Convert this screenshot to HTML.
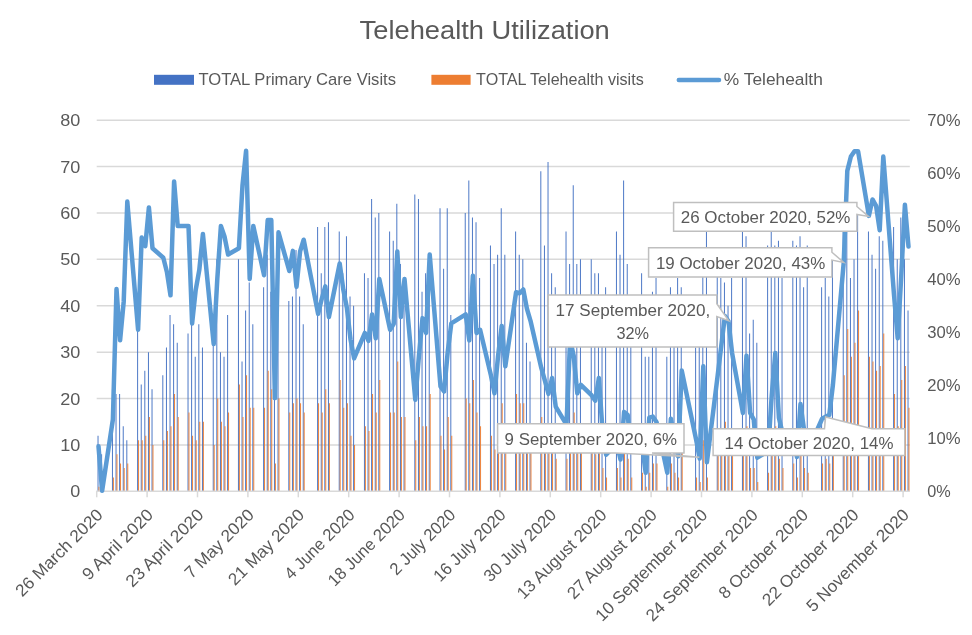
<!DOCTYPE html><html><head><meta charset="utf-8"><title>Telehealth Utilization</title>
<style>html,body{margin:0;padding:0;background:#fff;}svg{display:block;will-change:transform;}text{font-family:"Liberation Sans",sans-serif;fill:#595959;}</style></head><body>
<svg width="972" height="635" viewBox="0 0 972 635">
<rect width="972" height="635" fill="#fff"/>
<line x1="96.7" y1="444.91" x2="909.8" y2="444.91" stroke="#D9D9D9" stroke-width="1.5"/>
<line x1="96.7" y1="398.52" x2="909.8" y2="398.52" stroke="#D9D9D9" stroke-width="1.5"/>
<line x1="96.7" y1="352.13" x2="909.8" y2="352.13" stroke="#D9D9D9" stroke-width="1.5"/>
<line x1="96.7" y1="305.74" x2="909.8" y2="305.74" stroke="#D9D9D9" stroke-width="1.5"/>
<line x1="96.7" y1="259.35" x2="909.8" y2="259.35" stroke="#D9D9D9" stroke-width="1.5"/>
<line x1="96.7" y1="212.96" x2="909.8" y2="212.96" stroke="#D9D9D9" stroke-width="1.5"/>
<line x1="96.7" y1="166.57" x2="909.8" y2="166.57" stroke="#D9D9D9" stroke-width="1.5"/>
<line x1="96.7" y1="120.18" x2="909.8" y2="120.18" stroke="#D9D9D9" stroke-width="1.5"/>
<path fill="#4472C4" d="M97.55 435.63h0.95v55.67h-0.95zM101.15 454.19h0.95v37.11h-0.95zM111.95 389.24h0.95v102.06h-0.95zM115.55 393.88h0.95v97.42h-0.95zM119.15 393.88h0.95v97.42h-0.95zM122.75 426.35h0.95v64.95h-0.95zM126.35 440.27h0.95v51.03h-0.95zM137.15 324.30h0.95v167.00h-0.95zM140.75 384.60h0.95v106.70h-0.95zM144.35 370.69h0.95v120.61h-0.95zM147.95 352.13h0.95v139.17h-0.95zM151.55 389.24h0.95v102.06h-0.95zM162.35 375.32h0.95v115.98h-0.95zM165.95 347.49h0.95v143.81h-0.95zM169.55 315.02h0.95v176.28h-0.95zM173.15 324.30h0.95v167.00h-0.95zM176.75 342.85h0.95v148.45h-0.95zM187.55 333.57h0.95v157.73h-0.95zM191.15 315.02h0.95v176.28h-0.95zM194.75 356.77h0.95v134.53h-0.95zM198.35 324.30h0.95v167.00h-0.95zM201.95 347.49h0.95v143.81h-0.95zM212.75 324.30h0.95v167.00h-0.95zM216.35 259.35h0.95v231.95h-0.95zM219.95 352.13h0.95v139.17h-0.95zM223.55 356.77h0.95v134.53h-0.95zM227.15 315.02h0.95v176.28h-0.95zM237.95 259.35h0.95v231.95h-0.95zM241.55 361.41h0.95v129.89h-0.95zM245.15 310.38h0.95v180.92h-0.95zM248.75 282.54h0.95v208.76h-0.95zM252.35 324.30h0.95v167.00h-0.95zM263.15 287.18h0.95v204.12h-0.95zM266.75 254.71h0.95v236.59h-0.95zM270.35 291.82h0.95v199.48h-0.95zM273.95 333.57h0.95v157.73h-0.95zM277.55 301.10h0.95v190.20h-0.95zM288.35 301.10h0.95v190.20h-0.95zM291.95 296.46h0.95v194.84h-0.95zM295.55 250.07h0.95v241.23h-0.95zM299.15 296.46h0.95v194.84h-0.95zM302.75 324.30h0.95v167.00h-0.95zM317.15 226.88h0.95v264.42h-0.95zM320.75 273.27h0.95v218.03h-0.95zM324.35 226.88h0.95v264.42h-0.95zM327.95 222.24h0.95v269.06h-0.95zM338.75 231.52h0.95v259.78h-0.95zM342.35 273.27h0.95v218.03h-0.95zM345.95 236.16h0.95v255.15h-0.95zM349.55 296.46h0.95v194.84h-0.95zM353.15 305.74h0.95v185.56h-0.95zM363.95 273.27h0.95v218.03h-0.95zM367.55 277.91h0.95v213.39h-0.95zM371.15 199.04h0.95v292.26h-0.95zM374.75 217.60h0.95v273.70h-0.95zM378.35 212.96h0.95v278.34h-0.95zM389.15 231.52h0.95v259.78h-0.95zM392.75 240.79h0.95v250.51h-0.95zM396.35 203.68h0.95v287.62h-0.95zM399.95 263.99h0.95v227.31h-0.95zM403.55 305.74h0.95v185.56h-0.95zM414.35 194.40h0.95v296.90h-0.95zM417.95 199.04h0.95v292.26h-0.95zM421.55 291.82h0.95v199.48h-0.95zM425.15 273.27h0.95v218.03h-0.95zM428.75 273.27h0.95v218.03h-0.95zM439.55 208.32h0.95v282.98h-0.95zM443.15 268.63h0.95v222.67h-0.95zM446.75 208.32h0.95v282.98h-0.95zM450.35 315.02h0.95v176.28h-0.95zM464.75 212.96h0.95v278.34h-0.95zM468.35 180.49h0.95v310.81h-0.95zM471.95 217.60h0.95v273.70h-0.95zM475.55 222.24h0.95v269.06h-0.95zM479.15 277.91h0.95v213.39h-0.95zM489.95 245.43h0.95v245.87h-0.95zM493.55 263.99h0.95v227.31h-0.95zM497.15 254.71h0.95v236.59h-0.95zM500.75 208.32h0.95v282.98h-0.95zM504.35 254.71h0.95v236.59h-0.95zM515.15 231.52h0.95v259.78h-0.95zM518.75 254.71h0.95v236.59h-0.95zM522.35 259.35h0.95v231.95h-0.95zM525.95 342.85h0.95v148.45h-0.95zM529.55 361.41h0.95v129.89h-0.95zM540.35 171.21h0.95v320.09h-0.95zM543.95 245.43h0.95v245.87h-0.95zM547.55 161.93h0.95v329.37h-0.95zM551.15 273.27h0.95v218.03h-0.95zM554.75 287.18h0.95v204.12h-0.95zM565.55 231.52h0.95v259.78h-0.95zM569.15 263.99h0.95v227.31h-0.95zM572.75 185.13h0.95v306.17h-0.95zM576.35 263.99h0.95v227.31h-0.95zM579.95 259.35h0.95v231.95h-0.95zM590.75 259.35h0.95v231.95h-0.95zM594.35 273.27h0.95v218.03h-0.95zM597.95 273.27h0.95v218.03h-0.95zM601.55 315.02h0.95v176.28h-0.95zM605.15 287.18h0.95v204.12h-0.95zM615.95 231.52h0.95v259.78h-0.95zM619.55 254.71h0.95v236.59h-0.95zM623.15 180.49h0.95v310.81h-0.95zM626.75 263.99h0.95v227.31h-0.95zM630.35 305.74h0.95v185.56h-0.95zM641.15 273.27h0.95v218.03h-0.95zM644.75 356.77h0.95v134.53h-0.95zM648.35 356.77h0.95v134.53h-0.95zM651.95 291.82h0.95v199.48h-0.95zM655.55 277.91h0.95v213.39h-0.95zM666.35 356.77h0.95v134.53h-0.95zM669.95 287.18h0.95v204.12h-0.95zM673.55 301.10h0.95v190.20h-0.95zM677.15 277.91h0.95v213.39h-0.95zM680.75 287.18h0.95v204.12h-0.95zM695.15 347.49h0.95v143.81h-0.95zM698.75 338.21h0.95v153.09h-0.95zM702.35 273.27h0.95v218.03h-0.95zM705.95 231.52h0.95v259.78h-0.95zM716.75 259.35h0.95v231.95h-0.95zM720.35 277.91h0.95v213.39h-0.95zM723.95 282.54h0.95v208.76h-0.95zM727.55 305.74h0.95v185.56h-0.95zM731.15 277.91h0.95v213.39h-0.95zM741.95 231.52h0.95v259.78h-0.95zM745.55 236.16h0.95v255.15h-0.95zM749.15 333.57h0.95v157.73h-0.95zM752.75 319.66h0.95v171.64h-0.95zM756.35 342.85h0.95v148.45h-0.95zM767.15 245.43h0.95v245.87h-0.95zM770.75 231.52h0.95v259.78h-0.95zM774.35 245.43h0.95v245.87h-0.95zM777.95 240.79h0.95v250.51h-0.95zM781.55 277.91h0.95v213.39h-0.95zM792.35 240.79h0.95v250.51h-0.95zM795.95 245.43h0.95v245.87h-0.95zM799.55 236.16h0.95v255.15h-0.95zM803.15 287.18h0.95v204.12h-0.95zM806.75 245.43h0.95v245.87h-0.95zM821.15 287.18h0.95v204.12h-0.95zM824.75 277.91h0.95v213.39h-0.95zM828.35 296.46h0.95v194.84h-0.95zM831.95 259.35h0.95v231.95h-0.95zM842.75 222.24h0.95v269.06h-0.95zM846.35 222.24h0.95v269.06h-0.95zM849.95 277.91h0.95v213.39h-0.95zM853.55 259.35h0.95v231.95h-0.95zM857.15 208.32h0.95v282.98h-0.95zM867.95 231.52h0.95v259.78h-0.95zM871.55 254.71h0.95v236.59h-0.95zM875.15 268.63h0.95v222.67h-0.95zM878.75 236.16h0.95v255.15h-0.95zM882.35 240.79h0.95v250.51h-0.95zM893.15 226.88h0.95v264.42h-0.95zM896.75 259.35h0.95v231.95h-0.95zM900.35 217.60h0.95v273.70h-0.95zM903.95 259.35h0.95v231.95h-0.95zM907.55 310.38h0.95v180.92h-0.95z"/>
<path fill="#ED7D31" d="M98.50 486.66h0.95v4.64h-0.95zM112.90 477.38h0.95v13.92h-0.95zM116.50 454.19h0.95v37.11h-0.95zM120.10 463.47h0.95v27.83h-0.95zM123.70 468.11h0.95v23.20h-0.95zM127.30 463.47h0.95v27.83h-0.95zM138.10 440.27h0.95v51.03h-0.95zM141.70 440.27h0.95v51.03h-0.95zM145.30 435.63h0.95v55.67h-0.95zM148.90 417.08h0.95v74.22h-0.95zM152.50 444.91h0.95v46.39h-0.95zM163.30 440.27h0.95v51.03h-0.95zM166.90 430.99h0.95v60.31h-0.95zM170.50 426.35h0.95v64.95h-0.95zM174.10 393.88h0.95v97.42h-0.95zM177.70 417.08h0.95v74.22h-0.95zM188.50 412.44h0.95v78.86h-0.95zM192.10 435.63h0.95v55.67h-0.95zM195.70 440.27h0.95v51.03h-0.95zM199.30 421.72h0.95v69.59h-0.95zM202.90 421.72h0.95v69.59h-0.95zM213.70 444.91h0.95v46.39h-0.95zM217.30 398.52h0.95v92.78h-0.95zM220.90 421.72h0.95v69.59h-0.95zM224.50 426.35h0.95v64.95h-0.95zM228.10 412.44h0.95v78.86h-0.95zM238.90 384.60h0.95v106.70h-0.95zM242.50 417.08h0.95v74.22h-0.95zM246.10 375.32h0.95v115.98h-0.95zM249.70 407.80h0.95v83.50h-0.95zM253.30 407.80h0.95v83.50h-0.95zM264.10 407.80h0.95v83.50h-0.95zM267.70 370.69h0.95v120.61h-0.95zM271.30 389.24h0.95v102.06h-0.95zM274.90 463.47h0.95v27.83h-0.95zM278.50 398.52h0.95v92.78h-0.95zM289.30 412.44h0.95v78.86h-0.95zM292.90 403.16h0.95v88.14h-0.95zM296.50 398.52h0.95v92.78h-0.95zM300.10 403.16h0.95v88.14h-0.95zM303.70 412.44h0.95v78.86h-0.95zM318.10 403.16h0.95v88.14h-0.95zM321.70 412.44h0.95v78.86h-0.95zM325.30 389.24h0.95v102.06h-0.95zM328.90 403.16h0.95v88.14h-0.95zM339.70 379.96h0.95v111.34h-0.95zM343.30 407.80h0.95v83.50h-0.95zM346.90 403.16h0.95v88.14h-0.95zM350.50 435.63h0.95v55.67h-0.95zM354.10 444.91h0.95v46.39h-0.95zM364.90 426.35h0.95v64.95h-0.95zM368.50 430.99h0.95v60.31h-0.95zM372.10 393.88h0.95v97.42h-0.95zM375.70 412.44h0.95v78.86h-0.95zM379.30 379.96h0.95v111.34h-0.95zM390.10 412.44h0.95v78.86h-0.95zM393.70 412.44h0.95v78.86h-0.95zM397.30 361.41h0.95v129.89h-0.95zM400.90 417.08h0.95v74.22h-0.95zM404.50 417.08h0.95v74.22h-0.95zM415.30 440.27h0.95v51.03h-0.95zM418.90 417.08h0.95v74.22h-0.95zM422.50 426.35h0.95v64.95h-0.95zM426.10 426.35h0.95v64.95h-0.95zM429.70 393.88h0.95v97.42h-0.95zM440.50 435.63h0.95v55.67h-0.95zM444.10 449.55h0.95v41.75h-0.95zM447.70 417.08h0.95v74.22h-0.95zM451.30 435.63h0.95v55.67h-0.95zM465.70 398.52h0.95v92.78h-0.95zM469.30 403.16h0.95v88.14h-0.95zM472.90 379.96h0.95v111.34h-0.95zM476.50 412.44h0.95v78.86h-0.95zM480.10 426.35h0.95v64.95h-0.95zM490.90 435.63h0.95v55.67h-0.95zM494.50 449.55h0.95v41.75h-0.95zM498.10 430.99h0.95v60.31h-0.95zM501.70 403.16h0.95v88.14h-0.95zM505.30 435.63h0.95v55.67h-0.95zM516.10 393.88h0.95v97.42h-0.95zM519.70 403.16h0.95v88.14h-0.95zM523.30 403.16h0.95v88.14h-0.95zM526.90 440.27h0.95v51.03h-0.95zM530.50 449.55h0.95v41.75h-0.95zM541.30 417.08h0.95v74.22h-0.95zM544.90 440.27h0.95v51.03h-0.95zM548.50 430.99h0.95v60.31h-0.95zM552.10 444.91h0.95v46.39h-0.95zM555.70 458.83h0.95v32.47h-0.95zM566.50 458.83h0.95v32.47h-0.95zM570.10 426.35h0.95v64.95h-0.95zM573.70 412.44h0.95v78.86h-0.95zM577.30 449.55h0.95v41.75h-0.95zM580.90 444.91h0.95v46.39h-0.95zM591.70 449.55h0.95v41.75h-0.95zM595.30 454.19h0.95v37.11h-0.95zM598.90 444.91h0.95v46.39h-0.95zM602.50 468.11h0.95v23.20h-0.95zM606.10 477.38h0.95v13.92h-0.95zM616.90 468.11h0.95v23.20h-0.95zM620.50 477.38h0.95v13.92h-0.95zM624.10 444.91h0.95v46.39h-0.95zM627.70 458.83h0.95v32.47h-0.95zM631.30 477.38h0.95v13.92h-0.95zM642.10 472.74h0.95v18.56h-0.95zM645.70 486.66h0.95v4.64h-0.95zM649.30 472.74h0.95v18.56h-0.95zM652.90 463.47h0.95v27.83h-0.95zM656.50 463.47h0.95v27.83h-0.95zM667.30 486.66h0.95v4.64h-0.95zM670.90 463.47h0.95v27.83h-0.95zM674.50 472.74h0.95v18.56h-0.95zM678.10 477.38h0.95v13.92h-0.95zM681.70 444.91h0.95v46.39h-0.95zM696.10 477.38h0.95v13.92h-0.95zM699.70 482.02h0.95v9.28h-0.95zM703.30 440.27h0.95v51.03h-0.95zM706.90 477.38h0.95v13.92h-0.95zM717.70 440.27h0.95v51.03h-0.95zM721.30 430.99h0.95v60.31h-0.95zM724.90 421.72h0.95v69.59h-0.95zM728.50 430.99h0.95v60.31h-0.95zM732.10 435.63h0.95v55.67h-0.95zM742.90 454.19h0.95v37.11h-0.95zM746.50 426.35h0.95v64.95h-0.95zM750.10 468.11h0.95v23.20h-0.95zM753.70 468.11h0.95v23.20h-0.95zM757.30 482.02h0.95v9.28h-0.95zM768.10 472.74h0.95v18.56h-0.95zM771.70 444.91h0.95v46.39h-0.95zM775.30 426.35h0.95v64.95h-0.95zM778.90 458.83h0.95v32.47h-0.95zM782.50 468.11h0.95v23.20h-0.95zM793.30 463.47h0.95v27.83h-0.95zM796.90 477.38h0.95v13.92h-0.95zM800.50 449.55h0.95v41.75h-0.95zM804.10 468.11h0.95v23.20h-0.95zM807.70 472.74h0.95v18.56h-0.95zM822.10 463.47h0.95v27.83h-0.95zM825.70 458.83h0.95v32.47h-0.95zM829.30 463.47h0.95v27.83h-0.95zM832.90 444.91h0.95v46.39h-0.95zM843.70 375.32h0.95v115.98h-0.95zM847.30 328.94h0.95v162.37h-0.95zM850.90 356.77h0.95v134.53h-0.95zM854.50 342.85h0.95v148.45h-0.95zM858.10 310.38h0.95v180.92h-0.95zM868.90 356.77h0.95v134.53h-0.95zM872.50 361.41h0.95v129.89h-0.95zM876.10 370.69h0.95v120.61h-0.95zM879.70 366.05h0.95v125.25h-0.95zM883.30 333.57h0.95v157.73h-0.95zM894.10 393.88h0.95v97.42h-0.95zM897.70 426.35h0.95v64.95h-0.95zM901.30 379.96h0.95v111.34h-0.95zM904.90 366.05h0.95v125.25h-0.95zM908.50 407.80h0.95v83.50h-0.95z"/>
<line x1="96.2" y1="491.30" x2="909.8" y2="491.30" stroke="#D9D9D9" stroke-width="1.5"/>
<line x1="96.70" y1="491.30" x2="96.70" y2="497.3" stroke="#D9D9D9" stroke-width="1.5"/>
<line x1="147.10" y1="491.30" x2="147.10" y2="497.3" stroke="#D9D9D9" stroke-width="1.5"/>
<line x1="197.50" y1="491.30" x2="197.50" y2="497.3" stroke="#D9D9D9" stroke-width="1.5"/>
<line x1="247.90" y1="491.30" x2="247.90" y2="497.3" stroke="#D9D9D9" stroke-width="1.5"/>
<line x1="298.30" y1="491.30" x2="298.30" y2="497.3" stroke="#D9D9D9" stroke-width="1.5"/>
<line x1="348.70" y1="491.30" x2="348.70" y2="497.3" stroke="#D9D9D9" stroke-width="1.5"/>
<line x1="399.10" y1="491.30" x2="399.10" y2="497.3" stroke="#D9D9D9" stroke-width="1.5"/>
<line x1="449.50" y1="491.30" x2="449.50" y2="497.3" stroke="#D9D9D9" stroke-width="1.5"/>
<line x1="499.90" y1="491.30" x2="499.90" y2="497.3" stroke="#D9D9D9" stroke-width="1.5"/>
<line x1="550.30" y1="491.30" x2="550.30" y2="497.3" stroke="#D9D9D9" stroke-width="1.5"/>
<line x1="600.70" y1="491.30" x2="600.70" y2="497.3" stroke="#D9D9D9" stroke-width="1.5"/>
<line x1="651.10" y1="491.30" x2="651.10" y2="497.3" stroke="#D9D9D9" stroke-width="1.5"/>
<line x1="701.50" y1="491.30" x2="701.50" y2="497.3" stroke="#D9D9D9" stroke-width="1.5"/>
<line x1="751.90" y1="491.30" x2="751.90" y2="497.3" stroke="#D9D9D9" stroke-width="1.5"/>
<line x1="802.30" y1="491.30" x2="802.30" y2="497.3" stroke="#D9D9D9" stroke-width="1.5"/>
<line x1="852.70" y1="491.30" x2="852.70" y2="497.3" stroke="#D9D9D9" stroke-width="1.5"/>
<line x1="903.10" y1="491.30" x2="903.10" y2="497.3" stroke="#D9D9D9" stroke-width="1.5"/>
<polyline fill="none" stroke="#5B9BD5" stroke-width="4.5" stroke-linejoin="round" stroke-linecap="round" points="98.50,446.31 102.10,490.80 112.90,419.29 116.50,288.98 120.10,340.37 123.70,301.70 127.30,201.58 138.10,329.77 141.70,237.60 145.30,246.08 148.90,207.41 152.50,248.20 163.30,257.73 166.90,272.03 170.50,295.34 174.10,181.46 177.70,225.95 188.50,225.95 192.10,323.41 195.70,290.04 199.30,269.92 202.90,233.90 213.70,344.07 217.30,278.92 220.90,225.95 224.50,236.54 228.10,254.55 238.90,248.20 242.50,185.16 246.10,150.73 249.70,278.92 253.30,225.95 264.10,275.21 267.70,220.12 271.30,220.12 274.90,398.10 278.50,232.31 289.30,270.97 292.90,250.85 296.50,286.87 300.10,251.38 303.70,239.72 318.10,313.88 321.70,299.05 325.30,286.34 328.90,317.06 339.70,263.56 343.30,289.51 346.90,308.05 350.50,339.31 354.10,358.38 364.90,332.95 368.50,340.89 372.10,314.41 375.70,338.25 379.30,278.92 390.10,329.77 393.70,323.94 397.30,251.38 400.90,317.06 404.50,278.92 415.30,399.69 418.90,356.26 422.50,318.12 426.10,332.95 429.70,254.55 440.50,386.45 444.10,391.48 447.70,352.02 451.30,323.41 465.70,314.41 469.30,340.37 472.90,275.74 476.50,332.95 480.10,329.77 490.90,375.33 494.50,393.34 498.10,355.73 501.70,326.06 505.30,366.32 516.10,292.16 519.70,293.22 523.30,289.51 526.90,308.58 530.50,320.77 541.30,367.91 544.90,380.62 548.50,393.86 552.10,377.97 555.70,406.58 566.50,424.59 570.10,339.84 573.70,355.73 577.30,393.34 580.90,384.86 591.70,395.45 595.30,400.75 598.90,377.97 602.50,430.41 606.10,454.78 616.90,443.66 620.50,459.55 624.10,411.87 627.70,415.05 631.30,451.07 642.10,445.78 645.70,472.79 649.30,417.70 652.90,416.64 656.50,421.94 667.30,472.79 670.90,418.76 674.50,438.89 678.10,456.37 681.70,370.56 696.10,439.42 699.70,458.49 703.30,366.32 706.90,462.20 717.70,375.33 721.30,345.66 724.90,316.00 728.50,321.30 732.10,353.08 742.90,412.93 746.50,355.73 750.10,412.93 753.70,419.29 757.30,457.69 768.10,451.07 771.70,395.98 775.30,353.08 778.90,417.70 782.50,433.06 793.30,432.00 796.90,456.90 800.50,403.93 804.10,430.41 807.70,451.07 822.10,418.76 825.70,416.64 829.30,415.05 832.90,384.86 843.70,263.03 847.30,170.86 850.90,156.56 854.50,151.26 858.10,151.26 868.90,215.89 872.50,199.47 876.10,205.82 879.70,230.19 883.30,156.56 894.10,295.87 897.70,338.25 901.30,275.21 904.90,204.76 908.50,246.61"/>
<path d="M673.6 202.4H856.9V206.5L868.4 216.4L856.9 214.4V231.2H673.6Z" fill="#fff" stroke="#BFBFBF" stroke-width="1.5" stroke-linejoin="miter"/><text x="680.8" y="223.2" font-size="16.3" textLength="169.6" lengthAdjust="spacingAndGlyphs">26 October 2020, 52%</text>
<path d="M648.6 247.7H831.9V252.2L843.7 262.4L831.9 260.1V276.9H648.6Z" fill="#fff" stroke="#BFBFBF" stroke-width="1.5" stroke-linejoin="miter"/><text x="655.9" y="268.6" font-size="16.3" textLength="169.4" lengthAdjust="spacingAndGlyphs">19 October 2020, 43%</text>
<path d="M548.2 294.9H716.8V303.7L728.8 320.7L716.8 316.5V347.1H548.2Z" fill="#fff" stroke="#BFBFBF" stroke-width="1.5" stroke-linejoin="miter"/><text x="555.6" y="316.1" font-size="16.3" textLength="154.6" lengthAdjust="spacingAndGlyphs">17 September 2020,</text><text x="616.4" y="338.8" font-size="16.3" textLength="32.6" lengthAdjust="spacingAndGlyphs">32%</text>
<path d="M497.6 423.7H684.0V453.1H652.0L699.4 457.3L615.4 453.1H497.6Z" fill="#fff" stroke="#BFBFBF" stroke-width="1.5" stroke-linejoin="miter"/><text x="504.6" y="445.3" font-size="16.3" textLength="172.4" lengthAdjust="spacingAndGlyphs">9 September 2020, 6%</text>
<path d="M713.1 428.7H824.5L825.6 417.0L872.0 428.7H904.8V455.5H713.1Z" fill="#fff" stroke="#BFBFBF" stroke-width="1.5" stroke-linejoin="miter"/><text x="724.5" y="448.5" font-size="16.3" textLength="169.0" lengthAdjust="spacingAndGlyphs">14 October 2020, 14%</text>
<text x="80.3" y="497.3" font-size="16.8" text-anchor="end" textLength="10.0" lengthAdjust="spacingAndGlyphs">0</text>
<text x="80.3" y="450.9" font-size="16.8" text-anchor="end" textLength="20.1" lengthAdjust="spacingAndGlyphs">10</text>
<text x="80.3" y="404.5" font-size="16.8" text-anchor="end" textLength="20.1" lengthAdjust="spacingAndGlyphs">20</text>
<text x="80.3" y="358.1" font-size="16.8" text-anchor="end" textLength="20.1" lengthAdjust="spacingAndGlyphs">30</text>
<text x="80.3" y="311.7" font-size="16.8" text-anchor="end" textLength="20.1" lengthAdjust="spacingAndGlyphs">40</text>
<text x="80.3" y="265.4" font-size="16.8" text-anchor="end" textLength="20.1" lengthAdjust="spacingAndGlyphs">50</text>
<text x="80.3" y="219.0" font-size="16.8" text-anchor="end" textLength="20.1" lengthAdjust="spacingAndGlyphs">60</text>
<text x="80.3" y="172.6" font-size="16.8" text-anchor="end" textLength="20.1" lengthAdjust="spacingAndGlyphs">70</text>
<text x="80.3" y="126.2" font-size="16.8" text-anchor="end" textLength="20.1" lengthAdjust="spacingAndGlyphs">80</text>
<text x="927.3" y="497.3" dy="-0.5" font-size="16.8" textLength="23.5" lengthAdjust="spacingAndGlyphs">0%</text>
<text x="927.3" y="444.3" dy="-0.5" font-size="16.8" textLength="33.3" lengthAdjust="spacingAndGlyphs">10%</text>
<text x="927.3" y="391.4" dy="-0.5" font-size="16.8" textLength="33.3" lengthAdjust="spacingAndGlyphs">20%</text>
<text x="927.3" y="338.4" dy="-0.5" font-size="16.8" textLength="33.3" lengthAdjust="spacingAndGlyphs">30%</text>
<text x="927.3" y="285.4" dy="-0.5" font-size="16.8" textLength="33.3" lengthAdjust="spacingAndGlyphs">40%</text>
<text x="927.3" y="232.5" dy="-0.5" font-size="16.8" textLength="33.3" lengthAdjust="spacingAndGlyphs">50%</text>
<text x="927.3" y="179.5" dy="-0.5" font-size="16.8" textLength="33.3" lengthAdjust="spacingAndGlyphs">60%</text>
<text x="927.3" y="126.5" dy="-0.5" font-size="16.8" textLength="33.3" lengthAdjust="spacingAndGlyphs">70%</text>
<text transform="translate(103.70 516.00) rotate(-45)" font-size="17.0" text-anchor="end" textLength="115.2" lengthAdjust="spacingAndGlyphs">26 March 2020</text>
<text transform="translate(154.10 516.00) rotate(-45)" font-size="17.0" text-anchor="end" textLength="92.1" lengthAdjust="spacingAndGlyphs">9 April 2020</text>
<text transform="translate(204.50 516.00) rotate(-45)" font-size="17.0" text-anchor="end" textLength="101.7" lengthAdjust="spacingAndGlyphs">23 April 2020</text>
<text transform="translate(254.90 516.00) rotate(-45)" font-size="17.0" text-anchor="end" textLength="89.8" lengthAdjust="spacingAndGlyphs">7 May 2020</text>
<text transform="translate(305.30 516.00) rotate(-45)" font-size="17.0" text-anchor="end" textLength="99.3" lengthAdjust="spacingAndGlyphs">21 May 2020</text>
<text transform="translate(355.70 516.00) rotate(-45)" font-size="17.0" text-anchor="end" textLength="91.3" lengthAdjust="spacingAndGlyphs">4 June 2020</text>
<text transform="translate(406.10 516.00) rotate(-45)" font-size="17.0" text-anchor="end" textLength="100.8" lengthAdjust="spacingAndGlyphs">18 June 2020</text>
<text transform="translate(456.50 516.00) rotate(-45)" font-size="17.0" text-anchor="end" textLength="84.9" lengthAdjust="spacingAndGlyphs">2 July 2020</text>
<text transform="translate(506.90 516.00) rotate(-45)" font-size="17.0" text-anchor="end" textLength="94.4" lengthAdjust="spacingAndGlyphs">16 July 2020</text>
<text transform="translate(557.30 516.00) rotate(-45)" font-size="17.0" text-anchor="end" textLength="94.4" lengthAdjust="spacingAndGlyphs">30 July 2020</text>
<text transform="translate(607.70 516.00) rotate(-45)" font-size="17.0" text-anchor="end" textLength="118.9" lengthAdjust="spacingAndGlyphs">13 August 2020</text>
<text transform="translate(658.10 516.00) rotate(-45)" font-size="17.0" text-anchor="end" textLength="118.9" lengthAdjust="spacingAndGlyphs">27 August 2020</text>
<text transform="translate(708.50 516.00) rotate(-45)" font-size="17.0" text-anchor="end" textLength="150.1" lengthAdjust="spacingAndGlyphs">10 September 2020</text>
<text transform="translate(758.90 516.00) rotate(-45)" font-size="17.0" text-anchor="end" textLength="150.1" lengthAdjust="spacingAndGlyphs">24 September 2020</text>
<text transform="translate(809.30 516.00) rotate(-45)" font-size="17.0" text-anchor="end" textLength="118.6" lengthAdjust="spacingAndGlyphs">8 October 2020</text>
<text transform="translate(859.70 516.00) rotate(-45)" font-size="17.0" text-anchor="end" textLength="128.2" lengthAdjust="spacingAndGlyphs">22 October 2020</text>
<text transform="translate(910.10 516.00) rotate(-45)" font-size="17.0" text-anchor="end" textLength="137.0" lengthAdjust="spacingAndGlyphs">5 November 2020</text>
<text x="359.6" y="38.6" font-size="25.5" textLength="250.2" lengthAdjust="spacingAndGlyphs">Telehealth Utilization</text>
<rect x="154" y="74.8" width="40" height="10" fill="#4472C4"/>
<text x="198.4" y="84.8" font-size="16.1" textLength="197.6" lengthAdjust="spacingAndGlyphs">TOTAL Primary Care Visits</text>
<rect x="431.4" y="74.8" width="39.2" height="10" fill="#ED7D31"/>
<text x="476.1" y="84.8" font-size="16.1" textLength="167.6" lengthAdjust="spacingAndGlyphs">TOTAL Telehealth visits</text>
<line x1="678.8" y1="79.9" x2="719" y2="79.9" stroke="#5B9BD5" stroke-width="4.5" stroke-linecap="round"/>
<text x="723.8" y="85.0" font-size="16.1" textLength="99.0" lengthAdjust="spacingAndGlyphs">% Telehealth</text>
</svg></body></html>
